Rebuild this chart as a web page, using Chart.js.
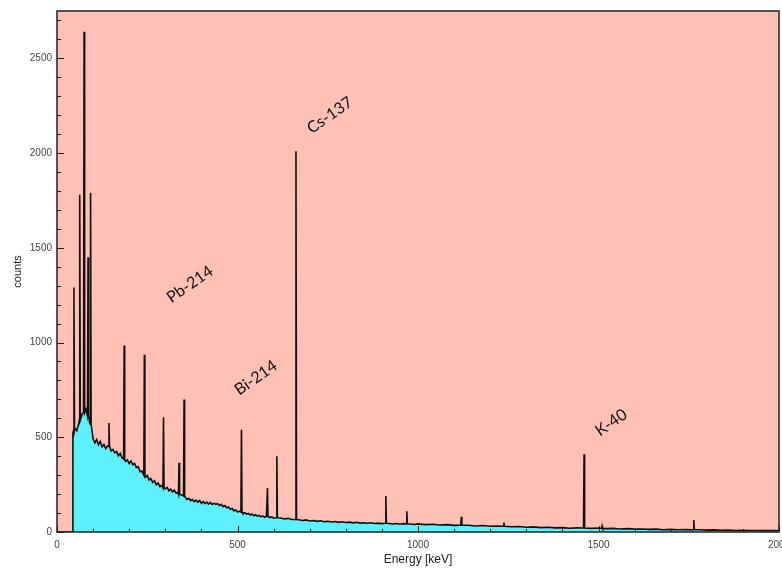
<!DOCTYPE html>
<html lang="en">
<head>
    <meta charset="UTF-8">
    <title>Gamma spectrum</title>
    <script src="https://cdn.jsdelivr.net/npm/chart.js"></script>
    <style>
        html, body { margin: 0; padding: 0; background: #fff; }
        #wrap { width: 782px; height: 568px; }
    </style>
</head>
<body>
    <div id="wrap"><canvas id="spectrum"></canvas></div>

    <script>
        // Continuum (energy in keV, counts)
        const bgEnergy = [
            0, 43, 44, 50, 55, 60, 65, 70, 75, 80,
            85, 90, 95, 100, 105, 110, 115, 120, 125, 130,
            135, 140, 145, 150, 155, 160, 165, 170, 175, 180,
            185, 190, 195, 200, 205, 210, 215, 220, 225, 230,
            235, 240, 245, 250, 255, 260, 265, 270, 275, 280,
            285, 290, 295, 300, 305, 310, 315, 320, 325, 330,
            335, 340, 345, 350, 355, 360, 365, 370, 375, 380,
            385, 390, 395, 400, 405, 410, 415, 420, 425, 430,
            435, 440, 445, 450, 455, 460, 465, 470, 475, 480,
            485, 490, 495, 500, 505, 510, 515, 520, 525, 530,
            535, 540, 545, 550, 555, 560, 565, 570, 575, 580,
            585, 590, 595, 600, 610, 620, 630, 640, 650, 660,
            670, 680, 690, 700, 710, 720, 730, 740, 750, 760,
            770, 780, 790, 800, 810, 820, 830, 840, 850, 860,
            870, 880, 890, 900, 910, 920, 930, 940, 950, 960,
            970, 980, 990, 1000, 1020, 1040, 1060, 1080, 1100, 1120,
            1140, 1160, 1180, 1200, 1220, 1240, 1260, 1280, 1300, 1320,
            1340, 1360, 1380, 1400, 1420, 1440, 1460, 1480, 1500, 1520,
            1540, 1560, 1580, 1600, 1620, 1640, 1660, 1680, 1700, 1720,
            1740, 1760, 1780, 1800, 1820, 1840, 1860, 1880, 1900, 1920,
            1940, 1960, 1980, 2000];
        const bgCounts = [
            0, 0, 520, 548, 535, 572, 598, 625, 640, 648,
            620, 595, 540, 492, 470, 488, 460, 478, 450, 462,
            440, 455, 445, 428, 436, 418, 425, 402, 415, 392,
            385, 372, 380, 362, 375, 355, 362, 340, 345, 318,
            322, 300, 290, 298, 275, 282, 262, 270, 250, 258,
            240, 246, 232, 228, 235, 218, 226, 212, 220, 205,
            210, 200, 195, 190, 185, 172, 178, 165, 172, 160,
            168, 158, 166, 152, 160, 150, 158, 147, 156, 145,
            152, 146, 150, 140, 146, 134, 140, 128, 132, 120,
            124, 112, 116, 105, 110, 105, 98, 102, 94, 98,
            90, 95, 86, 91, 84, 88, 80, 85, 78, 82,
            82, 76, 80, 73, 75, 74, 69, 72, 66, 66,
            65, 61, 64, 58, 61, 56, 59, 54, 57, 53,
            55, 51, 54, 50, 52, 48, 51, 47, 49, 46,
            49, 45, 47, 44, 46, 45, 42, 45, 41, 44,
            43, 42, 40, 43, 39, 41, 37, 39, 35, 36,
            36, 32, 34, 30, 32, 30, 28, 29, 25, 27,
            23, 25, 22, 23, 20, 22, 21, 19, 21, 18,
            19, 16, 18, 15, 16, 14, 15, 12, 14, 12,
            13, 11, 12, 10, 11, 9, 10, 8, 9, 8,
            8, 7, 8, 7];

        // Lines: energy, peak top, continuum under the peak
        const peakEnergy = [47, 63, 75, 86, 93, 144, 186, 242, 295, 338, 352, 511, 583, 609, 662, 911, 969, 1120, 1238, 1460, 1510, 1764];
        const peakTop    = [1290, 1780, 2640, 1450, 1790, 575, 985, 935, 605, 365, 700, 540, 232, 400, 2010, 190, 110, 80, 50, 410, 32, 63];
        const peakBase   = [535, 590, 630, 610, 570, 452, 385, 300, 232, 200, 190, 105, 82, 75, 66, 46, 43, 36, 30, 21, 19, 12];

        const xTicks = [0, 500, 1000, 1500, 2000];
        const yTicks = [0, 500, 1000, 1500, 2000, 2500];

        // Isotope labels placed in data coordinates
        const noteText   = ['Pb-214', 'Bi-214', 'Cs-137', 'K-40'];
        const noteEnergy = [368, 551, 756, 1535];
        const noteCounts = [1307, 814, 2200, 577];

        // merge continuum and peaks into one trace
        const points = [];
        bgEnergy.forEach((e, i) => {
            if (!peakEnergy.some(p => Math.abs(p - e) <= 2)) points.push({ x: e, y: bgCounts[i] });
        });
        peakEnergy.forEach((e, i) => {
            points.push({ x: e - 1.5, y: peakBase[i] });
            points.push({ x: e, y: peakTop[i] });
            points.push({ x: e + 1.5, y: peakBase[i] });
        });
        points.sort((a, b) => a.x - b.x);

        const framePlugin = {
            id: 'frame',
            beforeDraw(chart) {
                const { ctx, chartArea: a } = chart;
                ctx.save();
                ctx.fillStyle = '#ffc0b5';
                ctx.fillRect(a.left, a.top, a.right - a.left, a.bottom - a.top);
                ctx.restore();
            },
            afterDraw(chart) {
                const { ctx, chartArea: a, scales } = chart;
                ctx.save();
                ctx.strokeStyle = '#222';
                ctx.lineWidth = 1;
                // inward ticks
                ctx.beginPath();
                for (let v = 0; v <= 2700; v += 100) {
                    const y = Math.round(scales.y.getPixelForValue(v)) + 0.5;
                    const len = v % 500 === 0 ? 7 : 4;
                    ctx.moveTo(a.left, y);
                    ctx.lineTo(a.left + len, y);
                }
                for (let v = 0; v <= 2000; v += 100) {
                    const x = Math.round(scales.x.getPixelForValue(v)) + 0.5;
                    const len = v % 500 === 0 ? 6 : 3;
                    ctx.moveTo(x, a.bottom);
                    ctx.lineTo(x, a.bottom - len);
                }
                ctx.stroke();
                ctx.lineWidth = 1.5;
                ctx.strokeRect(a.left, a.top, a.right - a.left, a.bottom - a.top);

                // isotope labels
                ctx.fillStyle = '#111';
                ctx.font = '16px Lato, "Open Sans", sans-serif';
                ctx.textAlign = 'center';
                ctx.textBaseline = 'middle';
                noteText.forEach((t, i) => {
                    ctx.save();
                    ctx.translate(scales.x.getPixelForValue(noteEnergy[i]), scales.y.getPixelForValue(noteCounts[i]));
                    ctx.rotate(-35 * Math.PI / 180);
                    ctx.fillText(t, 0, 0);
                    ctx.restore();
                });
                ctx.restore();
            }
        };

        new Chart(document.getElementById('spectrum'), {
            type: 'line',
            data: {
                datasets: [{
                    data: points,
                    borderColor: '#111',
                    borderWidth: 1.6,
                    backgroundColor: '#5ff0fd',
                    fill: 'origin',
                    pointRadius: 0,
                    tension: 0
                }]
            },
            options: {
                responsive: true,
                maintainAspectRatio: false,
                animation: false,
                layout: { padding: { top: 8, right: 3, left: 0, bottom: 0 } },
                plugins: { legend: { display: false }, tooltip: { enabled: false } },
                scales: {
                    x: {
                        type: 'linear',
                        min: 0,
                        max: 2000,
                        grid: { display: false, drawTicks: false },
                        border: { display: false },
                        afterBuildTicks(scale) { scale.ticks = xTicks.map(v => ({ value: v })); },
                        afterFit(scale) { scale.height = 36; scale.paddingLeft = 0; scale.paddingRight = 0; },
                        ticks: { color: '#444', font: { family: 'Liberation Sans', size: 10 }, padding: 7, maxRotation: 0, callback: v => String(v) },
                        title: { display: true, text: 'Energy [keV]', color: '#222', font: { family: 'Liberation Sans', size: 12 }, padding: { top: 0, bottom: 1 } }
                    },
                    y: {
                        min: 0,
                        max: 2750,
                        grid: { display: false, drawTicks: false },
                        border: { display: false },
                        afterBuildTicks(scale) { scale.ticks = yTicks.map(v => ({ value: v })); },
                        afterFit(scale) { scale.width = 57; },
                        ticks: { color: '#444', font: { family: 'Liberation Sans', size: 10 }, padding: 5, callback: v => String(v) },
                        title: { display: true, text: 'counts', color: '#222', font: { family: 'Liberation Sans', size: 11 }, padding: { top: 11, bottom: 0 } }
                    }
                }
            },
            plugins: [framePlugin]
        });
    </script>
</body>
</html>
